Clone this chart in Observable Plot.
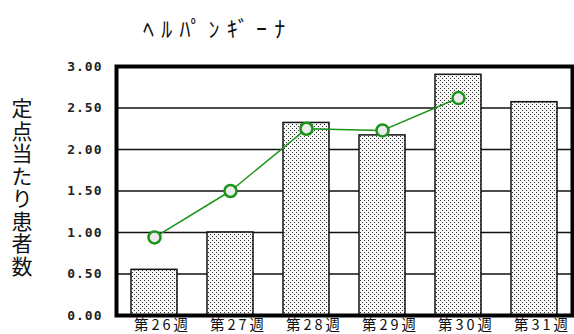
<!DOCTYPE html>
<html>
<head>
<meta charset="utf-8">
<script src="https://cdn.jsdelivr.net/npm/d3@7"></script>
<script src="https://cdn.jsdelivr.net/npm/@observablehq/plot@0.6"></script>
<style>
  html, body { margin: 0; padding: 0; background: #fff; }
  #wrap { position: relative; width: 574px; height: 334px; overflow: hidden; }
  #wrap svg { position: absolute; left: 0; top: 0; }
  #title {
    position: absolute; left: 143px; top: 11px;
    font-family: "Noto Sans CJK JP", sans-serif; font-size: 22px;
    letter-spacing: 7.2px; color: #111; white-space: nowrap;
  }
  #ylabel {
    position: absolute; left: 11px; top: 98px;
    writing-mode: vertical-rl; text-orientation: upright;
    font-family: "Noto Sans CJK JP", sans-serif; font-size: 21px;
    line-height: 22px; letter-spacing: 1.5px; color: #111;
  }
</style>
</head>
<body>
<div id="wrap">
  <div id="title">ﾍﾙﾊﾟﾝｷﾞｰﾅ</div>
  <div id="ylabel">定点当たり患者数</div>
</div>
<script>
// Weekly reports per sentinel site
const weeks = ["第26週", "第27週", "第28週", "第29週", "第30週", "第31週"];
const thisYear = [0.55, 1.00, 2.32, 2.17, 2.90, 2.57];
const lastYear = [0.94, 1.50, 2.25, 2.23, 2.62, null];
const yTicks = [0, 0.5, 1, 1.5, 2, 2.5, 3];

const bars = weeks.map((w, i) => ({week: w, value: thisYear[i]}));
const points = weeks
  .map((w, i) => ({week: w, value: lastYear[i]}))
  .filter(d => d.value != null);

const green = "#1a941a";

const chart = Plot.plot({
  width: 574,
  height: 334,
  marginTop: 66,
  marginLeft: 116,
  marginRight: 2,
  marginBottom: 19,
  style: {background: "transparent", overflow: "visible"},
  x: {domain: weeks, paddingInner: 0.39, paddingOuter: 0.16, axis: null},
  y: {domain: [0, 3], axis: null},
  marks: [
    Plot.ruleY(yTicks, {stroke: "#111", strokeWidth: 1.5}),
    Plot.barY(bars, {x: "week", y: "value", fill: "url(#dots)", stroke: "#111", strokeWidth: 1.5}),
    Plot.line(points, {x: "week", y: "value", stroke: green, strokeWidth: 1.5}),
    Plot.dot(points, {x: "week", y: "value", r: 6, stroke: green, strokeWidth: 2.5, fill: "#ececec"}),
    Plot.frame({stroke: "#000", strokeWidth: 4}),
    Plot.axisY(yTicks, {
      tickSize: 0, tickPadding: 14, tickFormat: d => d.toFixed(2),
      fontFamily: "DejaVu Sans Mono", fontSize: 13, fontWeight: "bold", fill: "#222", label: null
    }),
    // week labels under each bar
    Plot.text(weeks, {
      x: d => d, frameAnchor: "bottom", lineAnchor: "bottom", dy: 14, dx: 8,
      fontFamily: "Noto Sans CJK JP", fontSize: 14.5, fill: "#111"
    })
  ]
});

// Dotted fill used by the bars
const ns = "http://www.w3.org/2000/svg";
const defs = document.createElementNS(ns, "defs");
defs.innerHTML = `
  <pattern id="dots" width="4" height="4" patternUnits="userSpaceOnUse">
    <rect width="4" height="4" fill="#f7f7f7"/>
    <rect x="0" y="0" width="1" height="1" fill="#333"/>
    <rect x="2" y="2" width="1" height="1" fill="#333"/>
  </pattern>`;
chart.insertBefore(defs, chart.firstChild);
chart.querySelectorAll("g[aria-label='y-axis tick label']").forEach(el => el.setAttribute("letter-spacing", "1"));
chart.querySelectorAll("g[aria-label='text']").forEach(el => el.setAttribute("letter-spacing", "3"));

document.getElementById("wrap").prepend(chart);
</script>
</body>
</html>
